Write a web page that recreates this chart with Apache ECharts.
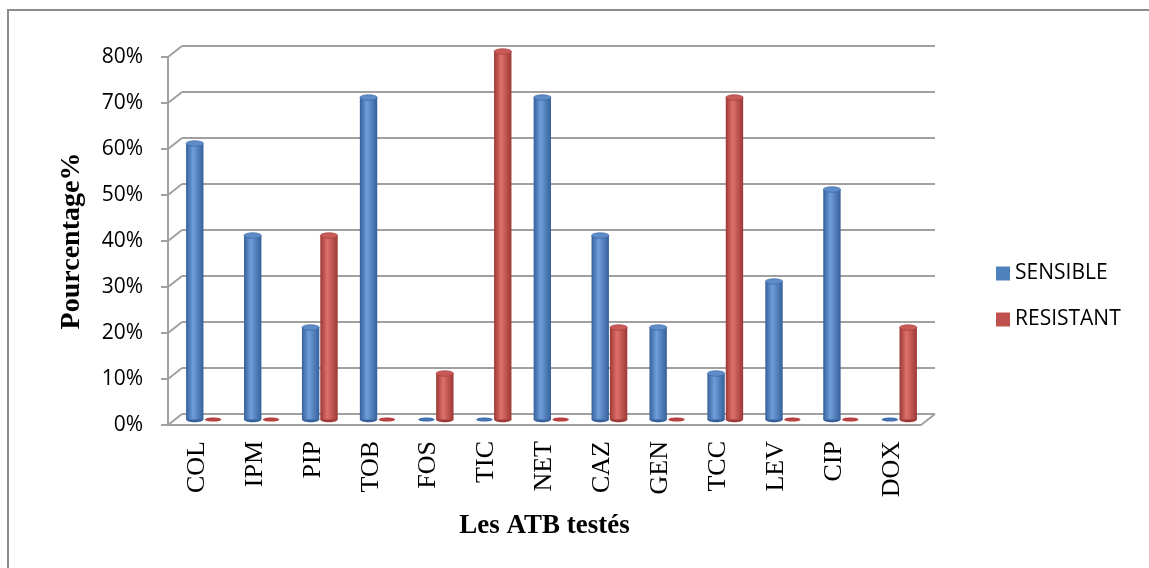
<!DOCTYPE html>
<html>
<head>
<meta charset="utf-8">
<script src="https://cdn.jsdelivr.net/npm/echarts@6/dist/echarts.min.js"></script>
<style>
  html, body { margin: 0; padding: 0; background: #fff; }
  #chart { width: 1149px; height: 568px; }
</style>
</head>
<body>
<div id="chart"></div>
<script>
const categories = ['COL', 'IPM', 'PIP', 'TOB', 'FOS', 'TIC', 'NET', 'CAZ', 'GEN', 'TCC', 'LEV', 'CIP', 'DOX'];
const sensible = [60, 40, 20, 70, 0, 0, 70, 40, 20, 10, 30, 50, 0];
const resistant = [0, 0, 40, 0, 10, 80, 0, 20, 0, 70, 0, 0, 20];
const yTicks = [0, 10, 20, 30, 40, 50, 60, 70, 80];

const W = 1149, H = 568;
// front plane of the fake 3D box, back wall is shifted by DX/DY
const FRONT = { left: 168, top: 57, right: 921, bottom: 425 };
const DX = 14, DY = -11;
const GRID_COLOR = '#a0a0a0';

const chart = echarts.init(document.getElementById('chart'));

// cylinder drawn from the axis scales; side = -1 left bar, +1 right bar
function cylinder(side, dark, mid, light, topColor) {
  return function (params, api) {
    const cat = api.value(0);
    const v = api.value(1);
    const base = api.coord([cat, 0]);
    const top = api.coord([cat, v]);
    const band = api.size([1, 0])[0];
    const w = band * 0.3;
    const cx = base[0] + side * (w / 2 + 0.5);
    const ry = w * 0.16;
    const body = new echarts.graphic.LinearGradient(0, 0, 1, 0, [
      { offset: 0, color: dark },
      { offset: 0.4, color: light },
      { offset: 1, color: dark }
    ]);
    if (v === 0) {
      return {
        type: 'ellipse',
        shape: { cx: cx, cy: base[1], rx: w / 2 - 0.5, ry: ry * 0.75 },
        style: { fill: mid }
      };
    }
    return {
      type: 'group',
      children: [
        { type: 'ellipse', shape: { cx: cx, cy: base[1], rx: w / 2, ry: ry }, style: { fill: dark } },
        { type: 'rect', shape: { x: cx - w / 2, y: top[1], width: w, height: base[1] - top[1] }, style: { fill: body } },
        { type: 'ellipse', shape: { cx: cx, cy: top[1], rx: w / 2, ry: ry }, style: { fill: topColor, stroke: dark, lineWidth: 0.6 } }
      ]
    };
  };
}

const option = {
  backgroundColor: '#fff',
  animation: false,
  legend: {
    orient: 'vertical',
    left: 991,
    top: 258,
    itemWidth: 14,
    itemHeight: 14,
    itemGap: 25,
    icon: 'rect',
    textStyle: { fontFamily: 'Open Sans', fontSize: 21, color: '#000' },
    data: ['SENSIBLE', 'RESISTANT']
  },
  grid: [
    // back wall
    { left: FRONT.left + DX, right: W - FRONT.right - DX, top: FRONT.top + DY, bottom: H - FRONT.bottom - DY },
    // front plane with axes
    { left: FRONT.left, right: W - FRONT.right, top: FRONT.top, bottom: H - FRONT.bottom },
    // middle depth where cylinders stand
    { left: FRONT.left + DX / 2, right: W - FRONT.right - DX / 2, top: FRONT.top + DY / 2, bottom: H - FRONT.bottom - DY / 2 }
  ],
  xAxis: [
    { gridIndex: 0, type: 'category', data: categories, show: false },
    {
      gridIndex: 1, type: 'category', data: categories,
      axisLine: { lineStyle: { color: GRID_COLOR, width: 2 } },
      axisTick: { length: 8, alignWithLabel: false, lineStyle: { color: GRID_COLOR, width: 2 } },
      axisLabel: { rotate: 90, margin: 16, fontFamily: 'Liberation Serif', fontSize: 26, color: '#000', interval: 0 },
      name: 'Les ATB testés',
      nameLocation: 'middle',
      nameGap: 88,
      nameTextStyle: { fontFamily: 'Liberation Serif', fontWeight: 'bold', fontSize: 27, color: '#000' }
    },
    { gridIndex: 2, type: 'category', data: categories, show: false }
  ],
  yAxis: [
    {
      gridIndex: 0, type: 'value', min: 0, max: 80, interval: 10,
      axisLine: { show: false }, axisTick: { show: false }, axisLabel: { show: false },
      splitLine: { lineStyle: { color: GRID_COLOR, width: 2 } }
    },
    {
      gridIndex: 1, type: 'value', min: 0, max: 80, interval: 10,
      axisLine: { show: true, lineStyle: { color: GRID_COLOR, width: 2 } },
      axisTick: { show: true, length: 7, lineStyle: { color: GRID_COLOR, width: 2 } },
      splitLine: { show: false },
      axisLabel: { formatter: '{value}%', margin: 25, fontFamily: 'Open Sans', fontSize: 21, color: '#000' },
      name: 'Pourcentage%',
      nameLocation: 'middle',
      nameGap: 82,
      nameTextStyle: { fontFamily: 'Liberation Serif', fontWeight: 'bold', fontSize: 28, color: '#000' }
    },
    { gridIndex: 2, type: 'value', min: 0, max: 80, interval: 10, show: false }
  ],
  series: [
    {
      name: 'SENSIBLE', type: 'custom', xAxisIndex: 2, yAxisIndex: 2,
      itemStyle: { color: '#4f81bd' },
      encode: { x: 0, y: 1 },
      renderItem: cylinder(-1, '#36609a', '#4472b0', '#6e9edb', '#5d8cc9'),
      data: sensible.map((v, i) => [i, v]),
      z: 3
    },
    {
      name: 'RESISTANT', type: 'custom', xAxisIndex: 2, yAxisIndex: 2,
      itemStyle: { color: '#c0504d' },
      encode: { x: 0, y: 1 },
      renderItem: cylinder(1, '#9c3835', '#b8423f', '#de706c', '#c95a57'),
      data: resistant.map((v, i) => [i, v]),
      z: 3
    }
  ]
};

chart.setOption(option);

// depth lines joining the front ticks to the back wall, plus the outer frame
const extras = [
  {
    type: 'rect', silent: true, z: -1,
    shape: { x: 8, y: 10, width: W + 20, height: H + 20 },
    style: { fill: null, stroke: '#8c8c8c', lineWidth: 2 }
  }
];
yTicks.forEach(v => {
  const yf = chart.convertToPixel({ yAxisIndex: 1 }, v);
  const yb = chart.convertToPixel({ yAxisIndex: 0 }, v);
  extras.push({
    type: 'line', silent: true,
    shape: { x1: FRONT.left, y1: yf, x2: FRONT.left + DX, y2: yb },
    style: { stroke: GRID_COLOR, lineWidth: 2 }
  });
});
const y0f = chart.convertToPixel({ yAxisIndex: 1 }, 0);
const y0b = chart.convertToPixel({ yAxisIndex: 0 }, 0);
extras.push({
  type: 'line', silent: true,
  shape: { x1: FRONT.right, y1: y0f, x2: FRONT.right + DX, y2: y0b },
  style: { stroke: GRID_COLOR, lineWidth: 2 }
});
chart.setOption({ graphic: extras });
</script>
</body>
</html>
